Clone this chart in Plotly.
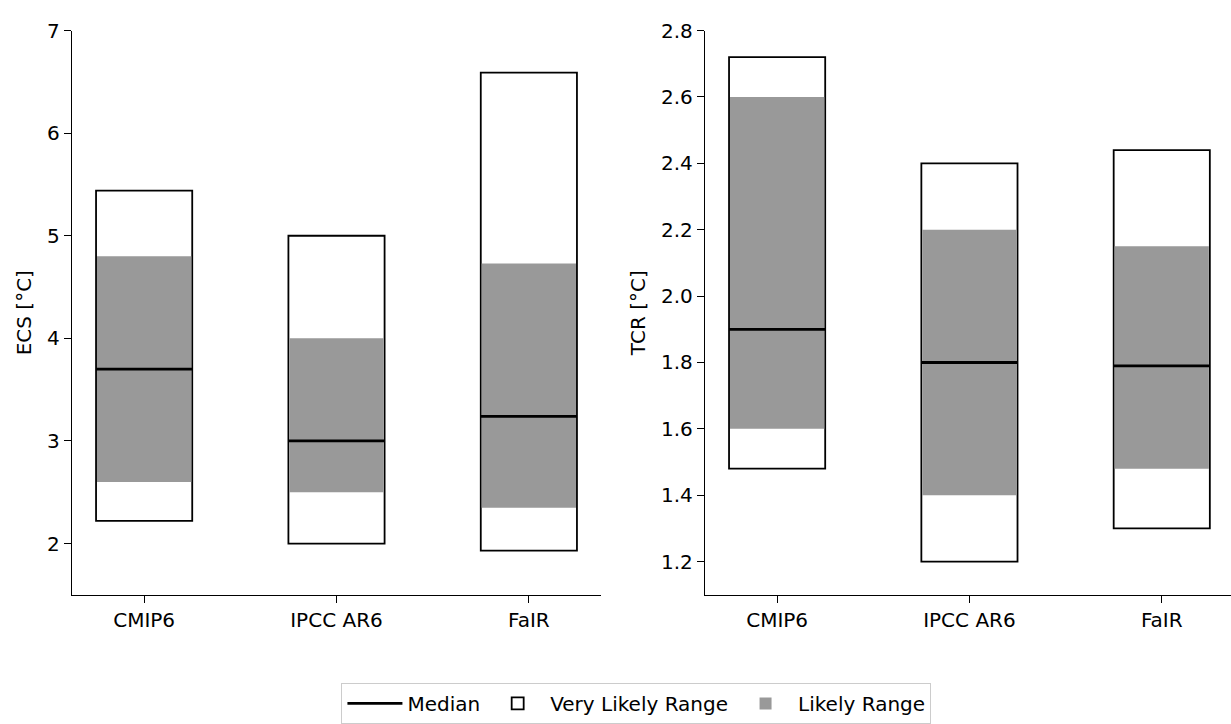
import plotly.graph_objects as go

# Climate sensitivity estimates by source
categories = ["CMIP6", "IPCC AR6", "FaIR"]

ecs_very_likely_low = [2.22, 2.0, 1.93]
ecs_very_likely_high = [5.44, 5.0, 6.59]
ecs_likely_low = [2.6, 2.5, 2.35]
ecs_likely_high = [4.8, 4.0, 4.73]
ecs_median = [3.7, 3.0, 3.24]

tcr_very_likely_low = [1.48, 1.2, 1.30]
tcr_very_likely_high = [2.72, 2.4, 2.44]
tcr_likely_low = [1.6, 1.4, 1.48]
tcr_likely_high = [2.6, 2.2, 2.15]
tcr_median = [1.9, 1.8, 1.79]

ecs_ticks = [2, 3, 4, 5, 6, 7]
tcr_ticks = [1.2, 1.4, 1.6, 1.8, 2.0, 2.2, 2.4, 2.6, 2.8]

BAR_WIDTH = 0.5
FONT = "DejaVu Sans"
FS = 20
W, H = 1231, 724

fig = go.Figure()

panels = [
    ("x", "y", ecs_very_likely_low, ecs_very_likely_high, ecs_likely_low,
     ecs_likely_high, ecs_median, True),
    ("x2", "y2", tcr_very_likely_low, tcr_very_likely_high, tcr_likely_low,
     tcr_likely_high, tcr_median, False),
]

xs = list(range(len(categories)))
for xa, ya, vl_lo, vl_hi, l_lo, l_hi, med, legend in panels:
    fig.add_trace(go.Bar(
        x=xs, base=vl_lo, y=[h - l for h, l in zip(vl_hi, vl_lo)],
        width=BAR_WIDTH, marker=dict(color="white", line=dict(color="black", width=1.8)),
        name="Very Likely Range", showlegend=legend, legendrank=2,
        xaxis=xa, yaxis=ya,
    ))
    fig.add_trace(go.Bar(
        x=xs, base=l_lo, y=[h - l for h, l in zip(l_hi, l_lo)],
        width=BAR_WIDTH - 0.01, marker=dict(color="#999999", line=dict(width=0)),
        name="Likely Range", showlegend=legend, legendrank=3,
        xaxis=xa, yaxis=ya,
    ))
    mx, my = [], []
    for i, m in zip(xs, med):
        mx += [i - BAR_WIDTH / 2, i + BAR_WIDTH / 2, None]
        my += [m, m, None]
    fig.add_trace(go.Scatter(
        x=mx, y=my, mode="lines", line=dict(color="black", width=2.8),
        name="Median", showlegend=legend, legendrank=1,
        xaxis=xa, yaxis=ya,
    ))

axis_common = dict(
    showgrid=False, zeroline=False, showline=True, linecolor="black", linewidth=1.3,
    ticks="outside", ticklen=7, tickwidth=1.3, tickcolor="black",
    tickfont=dict(family=FONT, size=FS, color="black"),
)

y_bottom = 1 - 596 / H
y_top = 1 - 19 / H

fig.update_layout(
    width=W, height=H,
    margin=dict(l=0, r=0, t=0, b=0),
    paper_bgcolor="white", plot_bgcolor="white",
    barmode="overlay",
    font=dict(family=FONT, size=FS, color="black"),
    xaxis=dict(domain=[72 / W, 601 / W], range=[-0.375, 2.375],
               tickvals=xs, ticktext=categories, anchor="y", **axis_common),
    yaxis=dict(domain=[y_bottom, y_top], range=[1.5, 7], tickvals=ecs_ticks,
               title=dict(text="ECS [°C]", font=dict(family=FONT, size=FS), standoff=10),
               anchor="x", **axis_common),
    xaxis2=dict(domain=[705 / W, 1.0], range=[-0.375, 2.36],
                tickvals=xs, ticktext=categories, anchor="y2", **axis_common),
    yaxis2=dict(domain=[y_bottom, y_top], range=[1.1, 2.8], tickvals=tcr_ticks,
                tickformat=".1f",
                title=dict(text="TCR [°C]", font=dict(family=FONT, size=FS), standoff=10),
                anchor="x2", **axis_common),
    legend=dict(
        orientation="h", x=0.517, xanchor="center", y=1 - 707 / H, yanchor="middle",
        bordercolor="#cccccc", borderwidth=1, bgcolor="white",
        font=dict(family=FONT, size=FS), itemwidth=55, traceorder="normal",
    ),
)

fig.write_html("out.html")
